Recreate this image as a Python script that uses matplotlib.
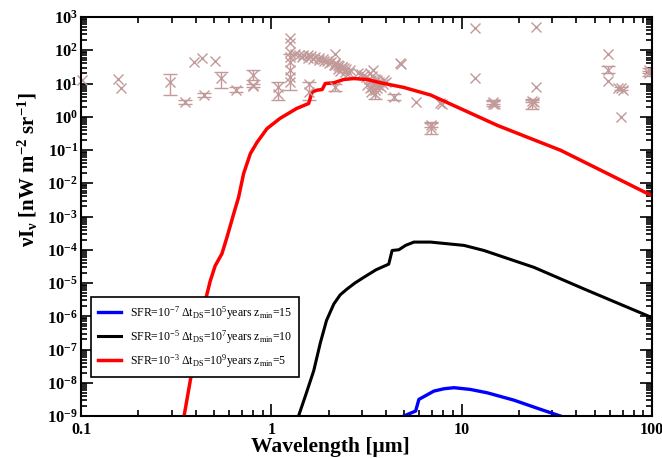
import matplotlib
matplotlib.use('Agg')
import matplotlib.pyplot as plt
import matplotlib.ticker as mticker
import numpy as np

# 字体：Times 风格
plt.rcParams['font.family'] = ['Liberation Serif', 'DejaVu Serif']
plt.rcParams['mathtext.fontset'] = 'custom'
plt.rcParams['mathtext.rm'] = 'Liberation Serif'
plt.rcParams['mathtext.it'] = 'Liberation Serif:italic'
plt.rcParams['mathtext.bf'] = 'Liberation Serif:bold'

# ---- 模型曲线 (波长 um, nu I_nu nW m^-2 sr^-1) ----
lam_red = [0.348, 0.375, 0.406, 0.45, 0.478, 0.507, 0.55, 0.585, 0.634, 0.673,
           0.715, 0.776, 0.841, 0.949, 1.11, 1.36, 1.57, 1.64, 1.74, 1.85,
           1.92, 2.13, 2.40, 2.71, 3.19, 3.75, 4.97, 6.87, 10.3, 15.4, 23.1,
           33.1, 38.9, 58.4, 94.8, 100]
val_red = [1e-9, 1.15e-8, 1.45e-7, 2.95e-6, 1.17e-5, 3.3e-5, 7.6e-5, 2.4e-4,
           1.2e-3, 3.8e-3, 1.95e-2, 7.8e-2, 0.17, 0.44, 0.89, 1.78, 2.5, 5.6,
           6.3, 6.6, 10.0, 10.5, 13.2, 14.1, 13.2, 10.5, 7.6, 4.5, 1.57, 0.55,
           0.22, 0.098, 0.062, 0.0195, 0.0049, 0.0043]

lam_black = [1.39, 1.52, 1.67, 1.81, 1.95, 2.13, 2.30, 2.50, 2.75, 3.06, 3.55,
             4.14, 4.31, 4.68, 5.07, 5.61, 6.87, 10.3, 13.1, 24, 44, 100]
val_black = [1e-9, 4.5e-9, 2.3e-8, 1.6e-7, 7.5e-7, 2.34e-6, 4.4e-6, 6.6e-6,
             1.0e-5, 1.48e-5, 2.5e-5, 3.7e-5, 9.5e-5, 1.0e-4, 1.35e-4, 1.7e-4,
             1.7e-4, 1.35e-4, 9.5e-5, 2.95e-5, 6.6e-6, 9.1e-7]

lam_blue = [4.97, 5.73, 5.96, 7.14, 8.07, 9.12, 11.1, 13.6, 18.8, 26, 33]
val_blue = [1e-9, 1.41e-9, 3.16e-9, 5.6e-9, 6.6e-9, 7.1e-9, 6.3e-9, 5.0e-9,
            3.0e-9, 1.58e-9, 1e-9]

labels = [r'SFR=10$^{-7}$ Δt$_{\mathrm{DS}}$=10$^{5}$years z$_{\mathrm{min}}$=15',
          r'SFR=10$^{-5}$ Δt$_{\mathrm{DS}}$=10$^{7}$years z$_{\mathrm{min}}$=10',
          r'SFR=10$^{-3}$ Δt$_{\mathrm{DS}}$=10$^{9}$years z$_{\mathrm{min}}$=5']

# ---- 观测数据：仅有叉号的点 ----
obs_lam = [0.101, 0.157, 0.162, 0.394, 0.431, 0.504, 0.80,
           1.08, 1.25, 1.25, 1.25, 1.25, 1.25, 1.25, 1.25, 1.57,
           1.33, 1.40, 1.47, 1.55, 1.62, 1.70, 1.78, 1.87, 1.96, 2.05, 2.15,
           2.25, 2.36, 2.47, 2.60,
           1.45, 1.55, 1.66, 1.78, 1.90, 2.02, 2.14, 2.27, 2.40,
           2.15, 2.25, 2.35, 2.45, 2.55, 2.30, 2.17,
           2.85, 2.95, 3.05, 3.15, 3.25, 3.35, 3.45, 3.55, 3.65, 3.75, 3.85,
           3.30, 3.40, 3.50, 3.60, 3.70, 3.20, 3.30, 3.40, 3.50, 3.60, 3.90,
           4.00, 3.43, 3.35,
           4.77, 4.80, 5.73, 7.70, 7.90, 11.7, 11.7, 14.9, 24.0, 24.5, 24.5,
           58.4, 58.4, 70.0, 66.0, 68.7]
obs_val = [12.6, 13.5, 7.1, 45, 59, 48, 8.9,
           5.0, 229, 162, 89, 63, 45, 15.8, 11.2, 10.0,
           76, 74, 72, 71, 68, 63, 59, 54, 49, 44, 40,
           35, 32, 28, 25,
           62, 60, 56, 52, 47, 42, 37, 33, 29,
           35, 28, 32, 22, 20, 24, 79,
           21, 19, 18, 16, 14, 12.6, 11.2, 10.0, 8.9, 7.9, 10.0,
           20, 16.6, 14, 12.6, 11.2, 8.9, 7.1, 7.9, 6.3, 7.1, 12.6,
           11.2, 26, 5.6,
           42, 38, 2.7, 2.6, 2.5, 457, 14.8, 2.4, 2.8, 490, 7.6,
           75, 11.8, 6.6, 7.4, 0.95]

# ---- 观测数据：带误差棒的点 ----
err_lam = [0.294, 0.354, 0.444, 0.546, 0.655, 0.80, 0.80, 1.08, 1.25, 1.57,
           2.17, 3.50, 4.40, 6.87, 6.87, 14.6, 14.6, 23.3, 23.3, 58.4, 68.7,
           96.8, 96.8]
err_val = [11.2, 2.8, 4.5, 15.0, 6.6, 17.8, 8.5, 7.9, 25, 5.6,
           7.9, 5.0, 4.0, 0.46, 0.56, 2.5, 2.8, 2.5, 3.0, 26, 7.1,
           25, 20]
err_lo = [4.5, 2.4, 3.8, 7.1, 5.6, 12.6, 7.6, 3.2, 6.3, 3.2,
          6.0, 3.5, 3.2, 0.31, 0.50, 2.1, 2.5, 1.66, 2.7, 21, 6.3,
          20, 17]
err_hi = [19, 3.3, 5.2, 22, 7.9, 26, 9.5, 11.2, 79, 11.2,
          10.0, 7.1, 5.0, 0.69, 0.63, 3.0, 3.1, 3.2, 3.4, 33, 7.9,
          30, 24]

obs_color = '#c29a9a'

fig = plt.figure(figsize=(6.62, 4.58), dpi=100)
ax = fig.add_axes([81 / 662, 1 - 416 / 458, 571 / 662, 399 / 458])

# 观测数据
ax.plot(obs_lam, obs_val, linestyle='none', marker='x', markersize=7,
        markeredgewidth=1.0, color=obs_color, clip_on=False)
yerr = [np.array(err_val) - np.array(err_lo), np.array(err_hi) - np.array(err_val)]
ax.errorbar(err_lam, err_val, yerr=yerr, fmt='x', markersize=7,
            markeredgewidth=1.0, color=obs_color, ecolor=obs_color,
            elinewidth=1.0, capsize=5, capthick=1.0)

# 模型曲线
ax.plot(lam_blue, val_blue, color='#0000ff', lw=2.4, label=labels[0])
ax.plot(lam_black, val_black, color='black', lw=2.2, label=labels[1])
ax.plot(lam_red, val_red, color='#ff0000', lw=2.5, label=labels[2])

ax.set_xscale('log')
ax.set_yscale('log')
ax.set_xlim(0.1, 100)
ax.set_ylim(1e-9, 1e3)

# 刻度
ax.xaxis.set_major_locator(mticker.FixedLocator([0.1, 1, 10, 100]))
ax.xaxis.set_major_formatter(mticker.FixedFormatter(['0.1', '1', '10', '100']))
ax.xaxis.set_minor_locator(mticker.LogLocator(base=10, subs=np.arange(2, 10), numticks=100))
ax.xaxis.set_minor_formatter(mticker.NullFormatter())
ax.yaxis.set_major_locator(mticker.LogLocator(base=10, numticks=100))
ax.yaxis.set_major_formatter(mticker.FuncFormatter(
    lambda v, p: r'$\mathbf{10^{%d}}$' % int(round(np.log10(v)))))
ax.yaxis.set_minor_locator(mticker.LogLocator(base=10, subs=np.arange(2, 10), numticks=100))
ax.yaxis.set_minor_formatter(mticker.NullFormatter())

ax.tick_params(which='both', direction='in', top=True, right=True, width=1.2)
ax.tick_params(which='major', length=8.5)
ax.tick_params(axis='y', which='major', pad=2, labelsize=12)
ax.tick_params(axis='x', which='major', pad=4, labelsize=11.5)
ax.tick_params(which='minor', length=4.5)
for lab in ax.get_xticklabels() + ax.get_yticklabels():
    lab.set_fontweight('bold')
for sp in ax.spines.values():
    sp.set_linewidth(1.5)

ax.set_xlabel('Wavelength [μm]', fontsize=15.5, fontweight='bold')
ax.set_ylabel(r'νI$_{\mathbf{ν}}$ [nW m$^{\mathbf{-2}}$ sr$^{\mathbf{-1}}$]',
              fontsize=15, fontweight='bold')
ax.xaxis.set_label_coords(0.436, -0.052)
ax.yaxis.set_label_coords(-0.072, 0.617)

leg = ax.legend(loc='lower left', bbox_to_anchor=(0.0175, 0.0977),
                borderaxespad=0, fontsize=8.5, fancybox=False,
                edgecolor='black', framealpha=1, handlelength=1.9,
                labelspacing=0.55, borderpad=0.6)
leg.get_frame().set_linewidth(1.2)

plt.savefig('out.png', dpi=100)
plt.close()
